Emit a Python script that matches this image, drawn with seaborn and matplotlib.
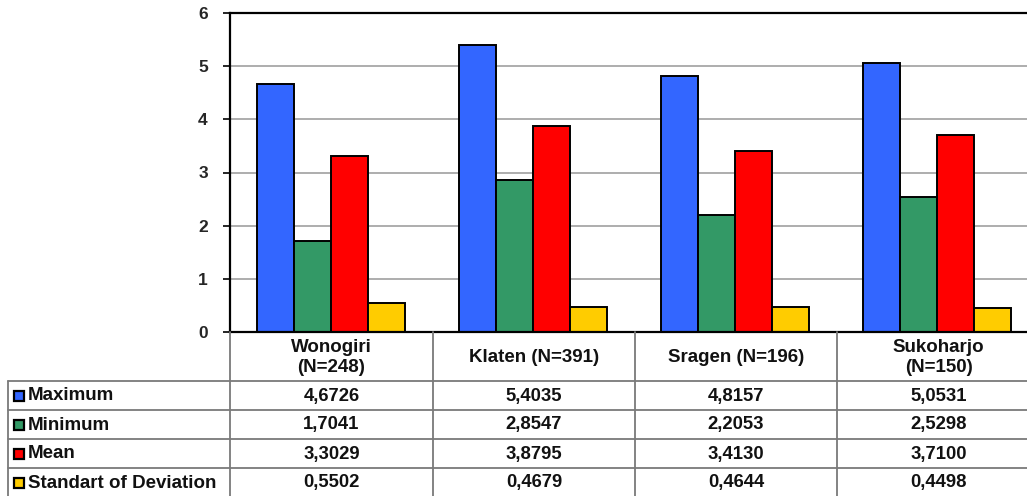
import matplotlib
matplotlib.use("Agg")
import matplotlib.pyplot as plt
import seaborn as sns
import pandas as pd
from matplotlib.lines import Line2D
from matplotlib.patches import Rectangle

regions = ["Wonogiri\n(N=248)", "Klaten (N=391)", "Sragen (N=196)", "Sukoharjo\n(N=150)"]
series = ["Maximum", "Minimum", "Mean", "Standart of Deviation"]
maximum = [4.6726, 5.4035, 4.8157, 5.0531]
minimum = [1.7041, 2.8547, 2.2053, 2.5298]
mean = [3.3029, 3.8795, 3.4130, 3.7100]
std_dev = [0.5502, 0.4679, 0.4644, 0.4498]
value_labels = [
    ["4,6726", "5,4035", "4,8157", "5,0531"],
    ["1,7041", "2,8547", "2,2053", "2,5298"],
    ["3,3029", "3,8795", "3,4130", "3,7100"],
    ["0,5502", "0,4679", "0,4644", "0,4498"],
]
colors = ["#3366FF", "#339966", "#FF0000", "#FFCC00"]

rows = []
for s, vals in zip(series, [maximum, minimum, mean, std_dev]):
    for r, v in zip(regions, vals):
        rows.append({"region": r, "series": s, "value": v})
df = pd.DataFrame(rows)

sns.set_style("white")
plt.rcParams["font.family"] = ["Liberation Sans", "DejaVu Sans"]

W, H = 1027, 496
fig = plt.figure(figsize=(W / 100, H / 100), dpi=100)

def fx(x):
    return x / W

def fy(y):
    return 1 - y / H

ax_left, ax_right, ax_top, ax_bot = 230, 1027, 13, 332
ax = fig.add_axes([fx(ax_left), fy(ax_bot), fx(ax_right - ax_left), (ax_bot - ax_top) / H])

sns.barplot(data=df, x="region", y="value", hue="series", order=regions,
            hue_order=series, palette=colors, saturation=1, width=0.73, gap=0,
            edgecolor="black", linewidth=1.4, ax=ax, legend=False)

group_px = 202.0
ax.set_xlim(-0.5, -0.5 + (ax_right - ax_left) / group_px)
ax.set_ylim(0, 6)
ax.set_yticks(range(0, 7))
ax.set_yticklabels([str(i) for i in range(0, 7)], fontsize=12.5, fontweight="bold")
ax.set_xticks([])
ax.set_xlabel("")
ax.set_ylabel("")
for y in range(1, 6):
    ax.axhline(y, color="#A0A0A0", linewidth=1.2, zorder=0)
for sp in ["left", "top", "bottom"]:
    ax.spines[sp].set_color("black")
    ax.spines[sp].set_linewidth(1.6)
ax.spines["right"].set_visible(False)
ax.tick_params(axis="y", direction="out", length=5, width=1.2, color="black", pad=11, left=True)

# data table
line_kw = dict(color="#7A7A7A", linewidth=1.3)
col_edges = [230, 433, 635, 837, 1040]
row_edges = [381, 410, 439, 468, 497]
for x in col_edges[:-1]:
    fig.add_artist(Line2D([fx(x), fx(x)], [fy(ax_bot), fy(row_edges[-1])], **line_kw))
fig.add_artist(Line2D([fx(8), fx(8)], [fy(row_edges[0]), fy(row_edges[-1])], **line_kw))
for y in row_edges:
    fig.add_artist(Line2D([fx(8), fx(1027)], [fy(y), fy(y)], **line_kw))

for i, r in enumerate(regions):
    cx = (col_edges[i] + col_edges[i + 1]) / 2
    fig.text(fx(cx), fy((ax_bot + row_edges[0]) / 2 + 1), r, ha="center", va="center",
             fontsize=13.5, fontweight="bold", linespacing=1.2, color="#111111")

for j, s in enumerate(series):
    cy = (row_edges[j] + row_edges[j + 1]) / 2
    fig.add_artist(Rectangle((fx(14), fy(cy + 5)), fx(10), 10 / H, facecolor=colors[j],
                             edgecolor="black", linewidth=1.6))
    fig.text(fx(28), fy(cy + 0.5), s, ha="left", va="center", fontsize=13.5,
             fontweight="bold", color="#111111")
    for i in range(4):
        cx = (col_edges[i] + col_edges[i + 1]) / 2
        fig.text(fx(cx), fy(cy + 0.5), value_labels[j][i], ha="center", va="center",
                 fontsize=13.3, fontweight="bold", color="#111111")

fig.savefig("out.png", dpi=100, facecolor="white")
